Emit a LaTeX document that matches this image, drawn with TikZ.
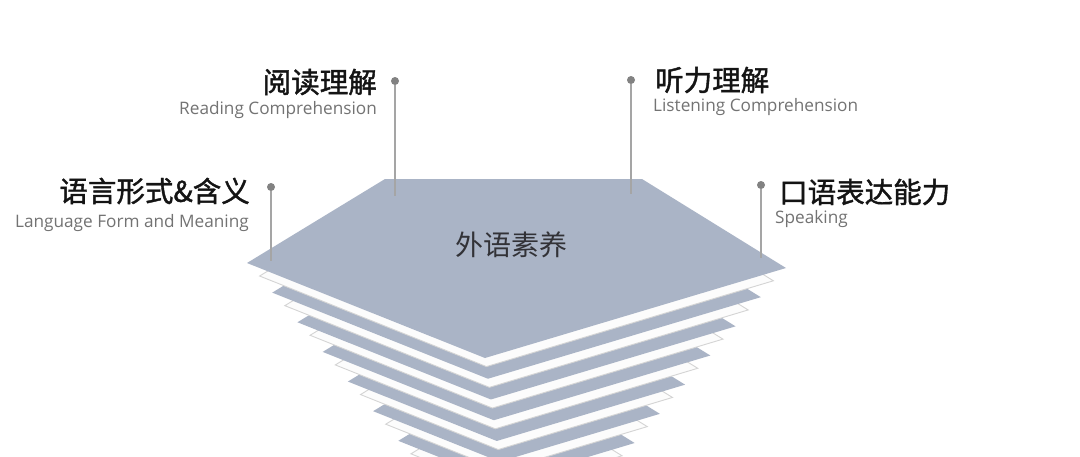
\documentclass[tikz,border=0pt]{standalone}
\usepackage{fontspec}
\setmainfont{Open Sans}
\newfontfamily\cjk{Noto Sans CJK SC}
\newfontfamily\cjkmid[FakeBold=1.4]{Noto Sans CJK SC}
\definecolor{slate}{RGB}{170,180,198}
\definecolor{paper}{RGB}{252,252,252}
\definecolor{edge}{RGB}{212,212,212}
\definecolor{dotgrey}{RGB}{130,130,130}
\definecolor{leadgrey}{RGB}{165,165,165}
\definecolor{entext}{RGB}{115,115,115}
\definecolor{cntext}{RGB}{20,20,20}
\tikzset{
  bluelayer/.style={fill=slate, draw=none},
  whitelayer/.style={fill=paper, draw=edge, line width=0.9pt, line join=miter},
  pin/.style={circle, fill=dotgrey, inner sep=0pt, minimum size=8pt},
  lead/.style={draw=leadgrey, line width=1.3pt},
  cnlabel/.style={inner sep=0pt, text=cntext, font={\cjkmid\fontsize{28.5}{31}\selectfont}},
  enlabel/.style={inner sep=0pt, text=entext, font={\fontsize{17.2}{20}\selectfont}},
  centrelabel/.style={inner sep=0pt, text={rgb,255:red,50;green,50;blue,55}, font={\cjk\fontsize{28}{31}\selectfont}}
}
\begin{document}
\begin{tikzpicture}[x=1pt,y=-1pt]
\useasboundingbox (0,0) rectangle (1080,456);
\fill[white] (0,0) rectangle (1080,456);
\begin{scope}
\clip (0,0) rectangle (1080,456);
\foreach \k in {15,...,0} {
  \pgfmathsetmacro\s{1-0.0468*\k}
  \pgfmathtruncatemacro\odd{mod(\k,2)}
  \ifnum\odd=1
    \pgfmathsetmacro\dy{265.5+14.7*\k-1.8}
    \path[whitelayer, shift={(516.5,\dy)}, scale=\s]
      (-269.5,-2.5) -- (-131.5,-86.5) -- (125.5,-86.5) -- (269.5,2.5) -- (-31.5,92.5) -- cycle;
  \else
    \pgfmathsetmacro\dy{265.5+14.7*\k}
    \path[bluelayer, shift={(516.5,\dy)}, scale=\s]
      (-269.5,-2.5) -- (-131.5,-86.5) -- (125.5,-86.5) -- (269.5,2.5) -- (-31.5,92.5) -- cycle;
  \fi
}
\end{scope}

\node[centrelabel] (core) at (511,245) {外语素养};

% pins and leads
\node[pin] (pinA) at (395,81) {};
\coordinate (endA) at (395,196);
\node[pin] (pinB) at (631,80) {};
\coordinate (endB) at (631,194);
\node[pin] (pinC) at (271,187) {};
\coordinate (endC) at (271,261);
\node[pin] (pinD) at (761,185) {};
\coordinate (endD) at (761,258);
\draw[lead] (pinA) -- (endA);
\draw[lead] (pinB) -- (endB);
\draw[lead] (pinC) -- (endC);
\draw[lead] (pinD) -- (endD);

% labels
\node[cnlabel, anchor=east] (cnA) at (377,82) {阅读理解};
\node[enlabel, anchor=east] (enA) at (377,110.5) {Reading Comprehension};
\node[cnlabel, anchor=west] (cnB) at (655,80) {听力理解};
\node[enlabel, anchor=west] (enB) at (653,107.5) {Listening Comprehension};
\node[cnlabel, anchor=east] (cnC) at (250,191) {语言形式\&含义};
\node[enlabel, anchor=east] (enC) at (249,223.5) {Language Form and Meaning};
\node[cnlabel, anchor=west] (cnD) at (779,192) {口语表达能力};
\node[enlabel, anchor=west] (enD) at (775,219.5) {Speaking};
\end{tikzpicture}
\end{document}
